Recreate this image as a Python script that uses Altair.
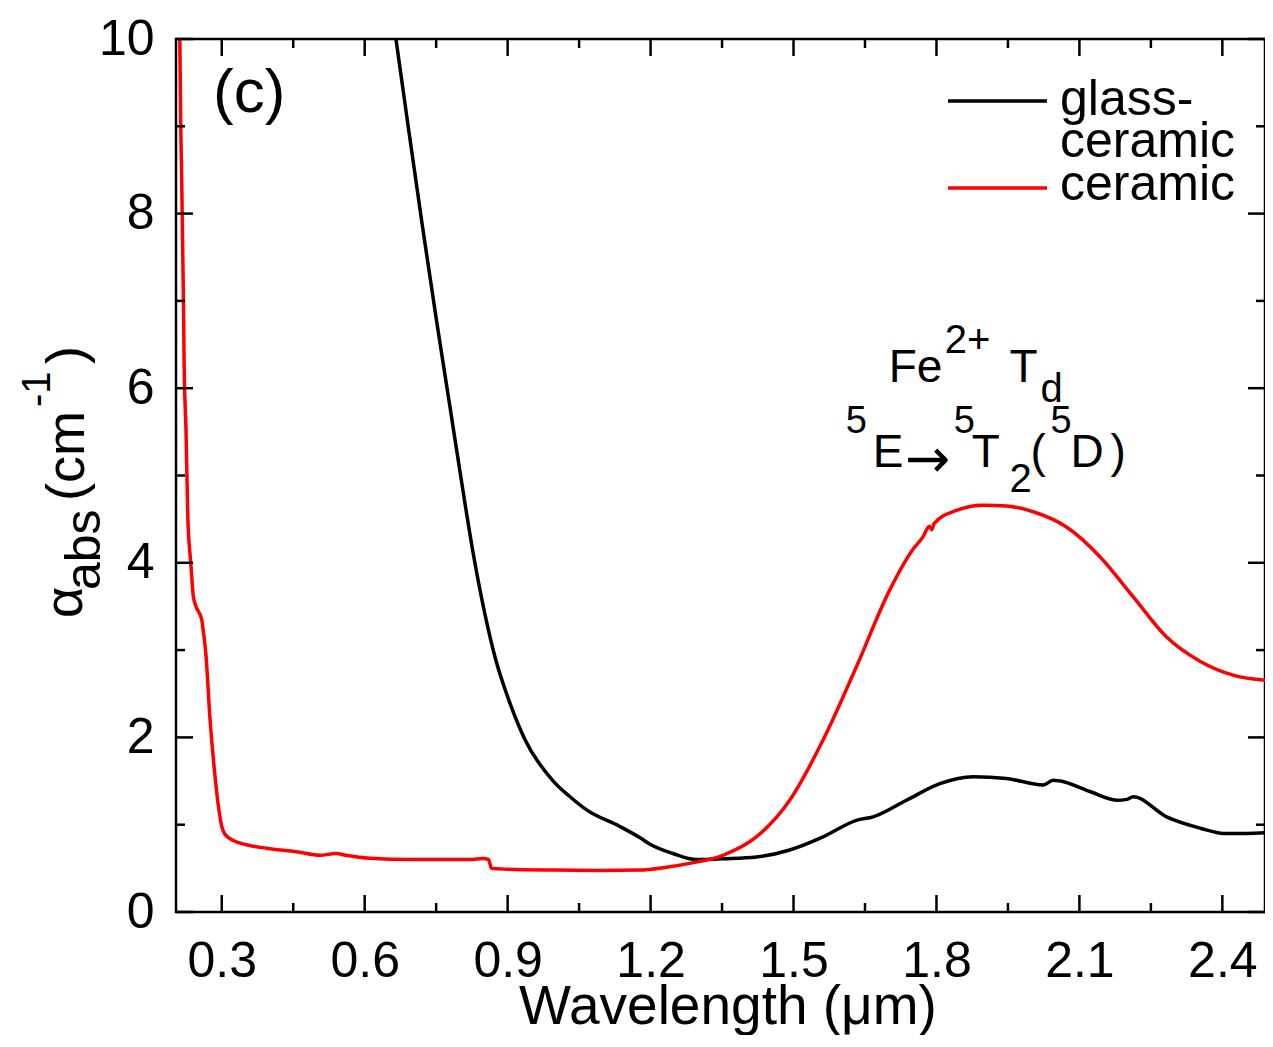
import altair as alt
import pandas as pd

# ---------------- data ----------------
ceramic_x = [0.212, 0.214, 0.216, 0.2195, 0.221, 0.225, 0.229, 0.235, 0.2405, 0.246,
             0.258, 0.261, 0.2665, 0.2755, 0.2845, 0.294, 0.300, 0.3055, 0.315, 0.324,
             0.352, 0.394, 0.457, 0.506, 0.540, 0.560, 0.611, 0.695, 0.821, 0.848,
             0.860, 0.866, 0.900, 1.000, 1.100, 1.178, 1.230, 1.282, 1.352, 1.422,
             1.492, 1.562, 1.632, 1.702, 1.750, 1.772, 1.785, 1.790, 1.795, 1.842,
             1.898, 1.947, 2.003, 2.073, 2.143, 2.213, 2.283, 2.354, 2.424, 2.500]
ceramic_y = [10.0, 9.0, 8.38, 7.05, 6.29, 5.52, 4.50, 4.00, 3.61, 3.50,
             3.35, 3.23, 2.97, 2.20, 1.63, 1.17, 0.98, 0.90, 0.85, 0.82,
             0.77, 0.73, 0.69, 0.65, 0.67, 0.65, 0.615, 0.60, 0.60, 0.613,
             0.60, 0.50, 0.49, 0.48, 0.475, 0.48, 0.51, 0.557, 0.65, 0.86,
             1.28, 1.97, 2.81, 3.69, 4.15, 4.30, 4.42, 4.38, 4.45, 4.60,
             4.66, 4.65, 4.585, 4.41, 4.07, 3.61, 3.15, 2.87, 2.71, 2.65]

glass_x = [0.6656, 0.690, 0.720, 0.750, 0.780, 0.805, 0.828, 0.852, 0.8755, 0.901,
           0.936, 0.9957, 1.031, 1.0657, 1.1355, 1.178, 1.198, 1.247, 1.296, 1.352,
           1.422, 1.492, 1.562, 1.632, 1.667, 1.737, 1.807, 1.877, 1.947, 2.024,
           2.045, 2.060, 2.122, 2.178, 2.200, 2.213, 2.283, 2.354, 2.403, 2.450, 2.500]
glass_y = [10.0, 9.05, 7.90, 6.80, 5.75, 4.87, 4.10, 3.42, 2.88, 2.45,
           1.98, 1.50, 1.32, 1.17, 0.98, 0.85, 0.78, 0.67, 0.60, 0.61,
           0.63, 0.71, 0.86, 1.05, 1.09, 1.28, 1.47, 1.55, 1.53, 1.455,
           1.51, 1.50, 1.38, 1.28, 1.29, 1.32, 1.09, 0.96, 0.90, 0.90, 0.91]

x_major = [0.3, 0.6, 0.9, 1.2, 1.5, 1.8, 2.1, 2.4]
x_minor = [0.45, 0.75, 1.05, 1.35, 1.65, 1.95, 2.25]
y_major = [0, 2, 4, 6, 8, 10]
y_minor = [1, 3, 5, 7, 9]

# annotation pieces (text, x in data, y in data, font size)
anno_text = ["Fe", "2+", "T", "d", "5", "E", "5", "T", "2", "(", "5", "D", ")"]
anno_x = [1.6997, 1.8172, 1.9535, 2.0186, 1.6095, 1.6661, 1.8361, 1.8738, 1.9535,
          1.9976, 2.0395, 2.0815, 2.1654]
anno_y = [6.074, 6.403, 6.074, 5.845, 5.487, 5.101, 5.487, 5.101, 4.814,
          5.101, 5.487, 5.101, 5.101]
anno_fs = [46, 40, 46, 40, 38, 46, 38, 46, 40, 46, 38, 46, 46]

W, H = 1089, 873
XDOM = [0.204, 2.4895]
FONT = "Liberation Sans"

df_c = pd.DataFrame({"x": ceramic_x, "y": ceramic_y})
df_g = pd.DataFrame({"x": glass_x, "y": glass_y})
df_anno = pd.DataFrame({"t": anno_text, "x": anno_x, "y": anno_y, "fs": anno_fs})

xscale = alt.Scale(domain=XDOM, nice=False, zero=False)
yscale = alt.Scale(domain=[0, 10], nice=False)

xaxis = alt.Axis(values=x_major, format=".1f", ticks=False, domain=False, grid=False,
                 labelFontSize=50, labelFont=FONT, labelColor="black", labelPadding=24,
                 title=None, labelFlush=False, labelOverlap=False)
yaxis = alt.Axis(values=y_major, format="d", ticks=False, domain=False, grid=False,
                 labelFontSize=50, labelFont=FONT, labelColor="black", labelPadding=22,
                 title=None, labelFlush=False, labelOverlap=False)

glass = alt.Chart(df_g).mark_line(color="black", strokeWidth=3.5, clip=True,
                                  interpolate="monotone").encode(
    x=alt.X("x:Q", scale=xscale, axis=xaxis), y=alt.Y("y:Q", scale=yscale, axis=yaxis))
ceramic = alt.Chart(df_c).mark_line(color="#ff0000", strokeWidth=3.5, clip=True,
                                    interpolate="monotone").encode(
    x=alt.X("x:Q", scale=xscale), y=alt.Y("y:Q", scale=yscale))

layers = [glass, ceramic]

# inward ticks on all four sides
def xticks(vals, length):
    d = pd.DataFrame({"x": vals})
    bot = alt.Chart(d).mark_rule(color="black", strokeWidth=2.5).encode(
        x=alt.X("x:Q", scale=xscale), y=alt.value(H), y2=alt.value(H - length))
    top = alt.Chart(d).mark_rule(color="black", strokeWidth=2.5).encode(
        x=alt.X("x:Q", scale=xscale), y=alt.value(0), y2=alt.value(length))
    return [bot, top]

def yticks(vals, length):
    d = pd.DataFrame({"y": vals})
    left = alt.Chart(d).mark_rule(color="black", strokeWidth=2.5).encode(
        y=alt.Y("y:Q", scale=yscale), x=alt.value(0), x2=alt.value(length))
    right = alt.Chart(d).mark_rule(color="black", strokeWidth=2.5).encode(
        y=alt.Y("y:Q", scale=yscale), x=alt.value(W), x2=alt.value(W - length))
    return [left, right]

layers += xticks(x_major, 17) + xticks(x_minor, 9) + yticks(y_major, 17) + yticks(y_minor, 9)

# annotation Fe2+ Td  5E->5T2(5D)
anno = alt.Chart(df_anno).mark_text(align="left", baseline="alphabetic", font=FONT,
                                    color="black").encode(
    x=alt.X("x:Q", scale=xscale), y=alt.Y("y:Q", scale=yscale),
    text="t:N", size=alt.Size("fs:Q", scale=None, legend=None))
layers.append(anno)

one = pd.DataFrame({"a": [0]})

def txt(s, px, py, fs, angle=0, align="left", font=FONT):
    kw = dict(align=align, baseline="alphabetic", font=font, fontSize=fs, color="black")
    if angle:
        kw["angle"] = angle
    return alt.Chart(one).mark_text(text=s, **kw).encode(x=alt.value(px), y=alt.value(py))

# arrow of the transition label
layers.append(txt("\u2192", 729, 438, 54, font="DejaVu Sans"))

# panel label
layers.append(txt("(c)", 37, 73, 62))

# x-axis title
layers.append(txt("Wavelength (\u03bcm)", 552, 985, 55, align="center"))

# y-axis title: alpha_abs (cm^-1), rotated
layers += [
    txt("\u03b1", -94, 579, 54, 270),
    txt("abs", -76, 551, 50, 270),
    txt("(cm", -92, 462, 54, 270),
    txt("-1", -126, 368, 40, 270),
    txt(")", -92, 325, 54, 270),
]

# legend
def lrule(color, py):
    return alt.Chart(one).mark_rule(color=color, strokeWidth=3.5).encode(
        x=alt.value(772), x2=alt.value(871), y=alt.value(py))

layers += [
    lrule("black", 62), lrule("#ff0000", 149),
    txt("glass-", 884, 76, 50), txt("ceramic", 884, 118, 50), txt("ceramic", 884, 161, 50),
]

chart = alt.layer(*layers).properties(
    width=W, height=H,
    autosize=alt.AutoSizeParams(type="none"),
    padding={"left": 168, "top": 31, "right": 0, "bottom": 123},
    background="white",
).configure_view(stroke="black", strokeWidth=2.5)

chart.save("out.html", embed_options={"renderer": "svg", "actions": False})
